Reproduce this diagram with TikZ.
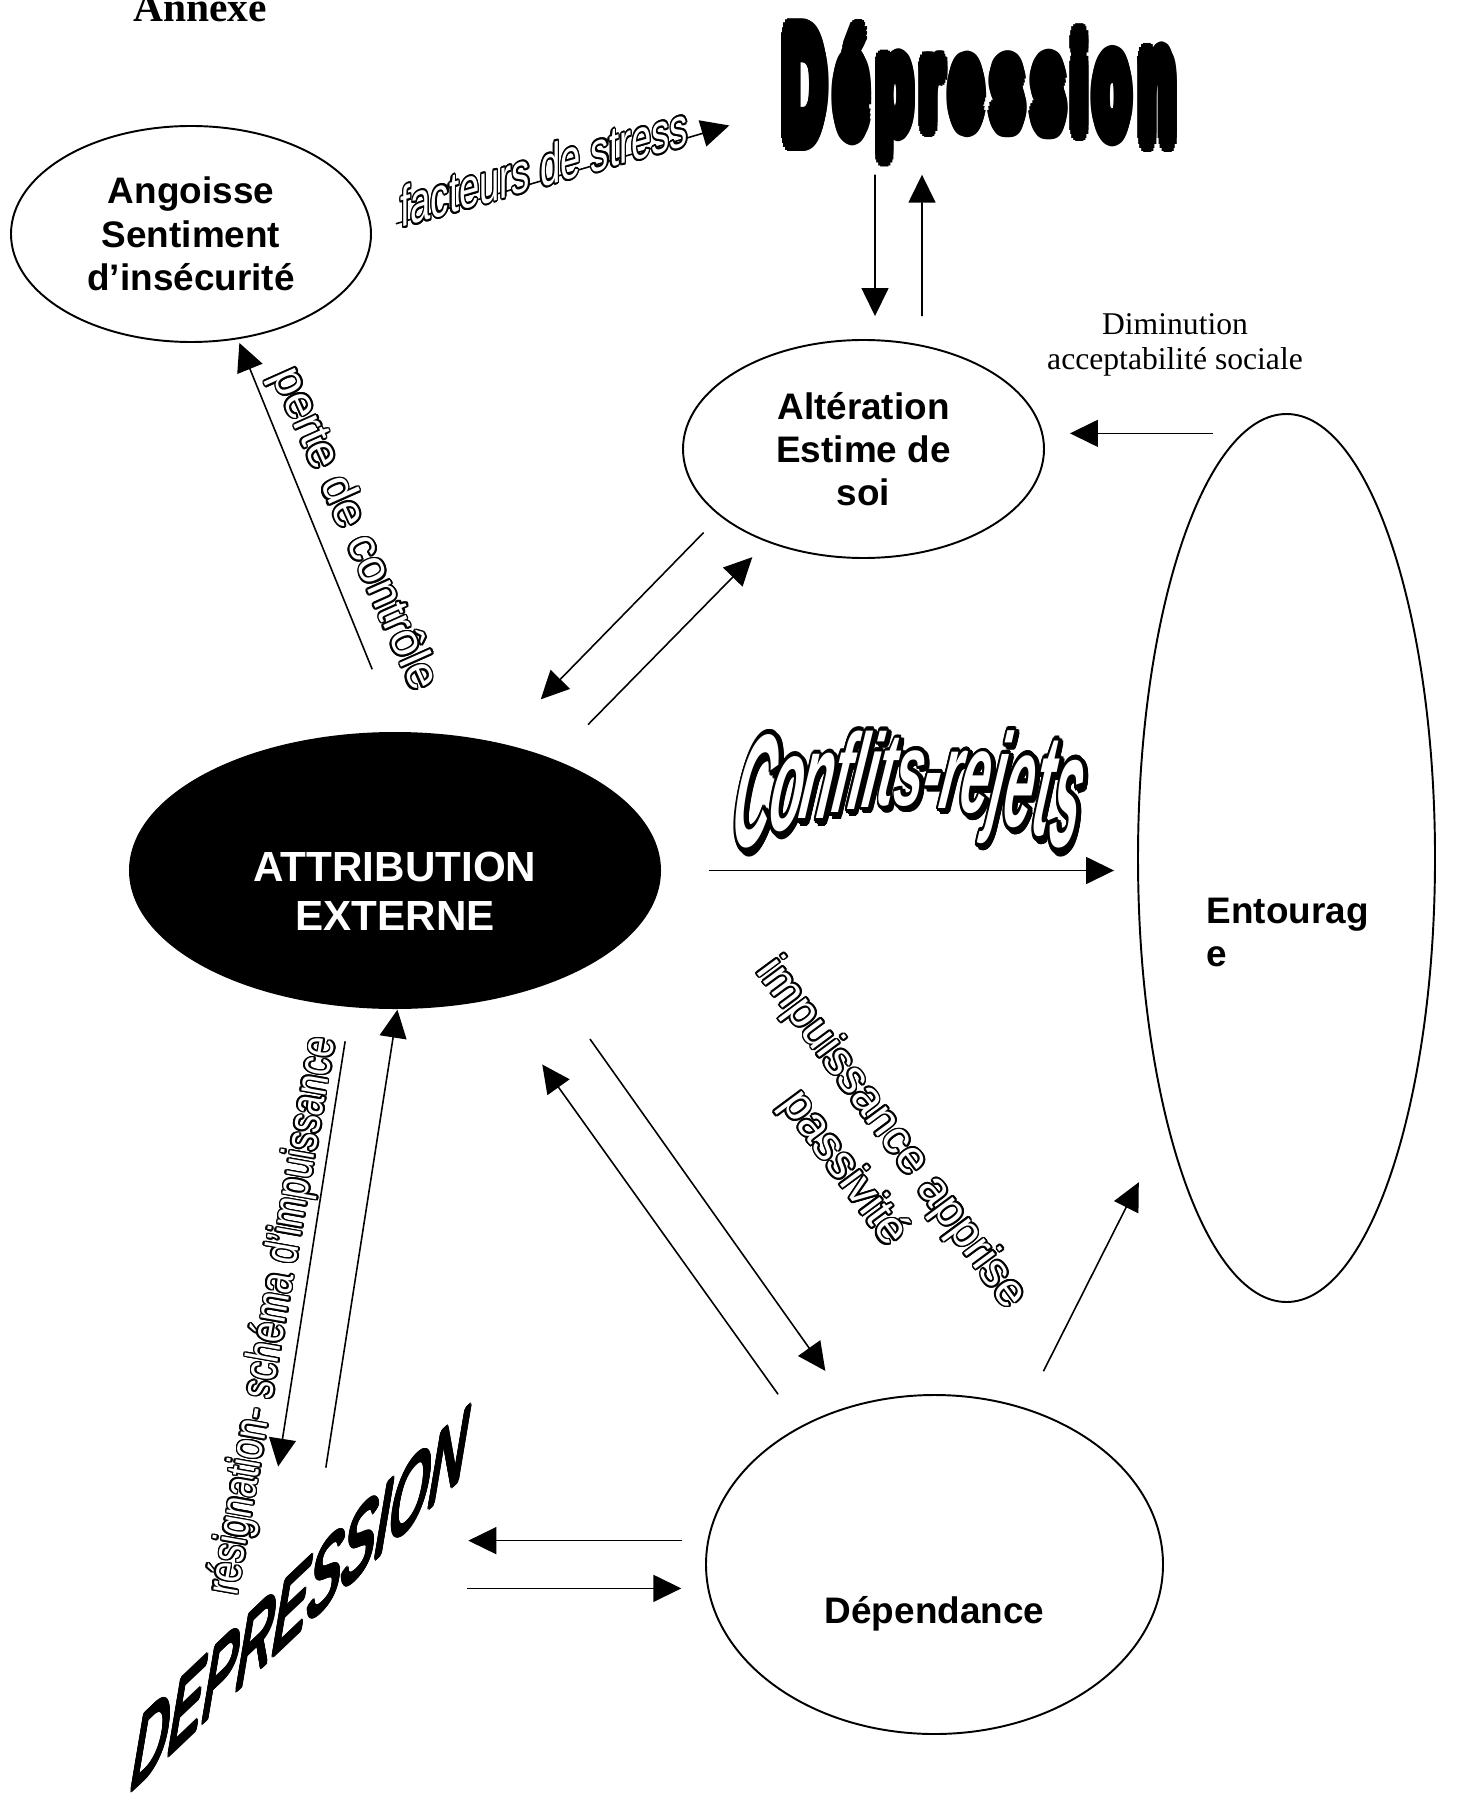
\documentclass[tikz,border=0pt]{standalone}
\usepackage{fontspec}
\setmainfont{Liberation Sans}
\newfontfamily\timesfont{Liberation Serif}
\usepackage{xcolor}
\usepackage[copies]{contour}
\usepackage{tikz}
\usetikzlibrary{arrows.meta,shapes.geometric}
\contourlength{0.5pt}
\newcommand{\creux}[1]{{\color{white}\contour{black}{#1}}}
\tikzset{
    %Define standard arrow tip
    >={Triangle[length=0.28cm,width=0.27cm]},
    %Define style for ellipses
    bulle/.style={
           ellipse,
           draw=black, line width=0.55pt,
           inner sep=0pt,
           align=center,
           font=\bfseries\fontsize{10.5}{12.3}\selectfont},
    bullenoire/.style={
           ellipse,
           fill=black,
           inner sep=0pt},
    %Define style for texts
    texte/.style={
           inner sep=0pt,
           font=\bfseries\fontsize{10.5}{12.3}\selectfont},
    textenoir/.style={
           inner sep=0pt,
           align=center,
           text=white,
           font=\bfseries\fontsize{12}{13.9}\selectfont},
    creuxtexte/.style={
           inner sep=0pt,
           align=center,
           font=\fontsize{13.2}{16.8}\selectfont},
    lettre/.style={
           inner sep=0pt,
           anchor=base,
           font=\bfseries\fontsize{17}{20}\selectfont},
    relief/.style={
           inner sep=0pt,
           anchor=base,
           font=\bfseries\itshape\fontsize{14.8}{16}\selectfont},
    % Define arrow style
    pil/.style={
           ->,
           line width=0.45pt}
}
\begin{document}
\begin{tikzpicture}
\useasboundingbox (0,0) rectangle (14.64,-17.93);
%nodes
\node[anchor=base, inner sep=0pt, font=\timesfont\bfseries\fontsize{11.8}{14}\selectfont] (annexe) at (2.00,-0.217) {Annexe};
\node[bulle, minimum width=3.6cm, minimum height=2.16cm] (ang) at (1.91,-2.34) {Angoisse\\Sentiment\\d’insécurité};
\node[bulle, minimum width=3.61cm, minimum height=2.18cm] (alt) at (8.635,-4.49) {Altération\\Estime de\\soi};
\node[bulle, minimum width=2.97cm, minimum height=8.88cm] (ent) at (12.865,-8.58) {};
\node[texte, align=left, anchor=north west] (entlbl) at ([shift={(-0.805,-0.39)}]ent.center) {Entourag\\e};
\node[bullenoire, minimum width=5.32cm, minimum height=2.77cm] (attr) at (3.95,-8.705) {};
\node[textenoir, anchor=north] (attrlbl) at ([yshift=0.195cm]attr.center) {ATTRIBUTION\\EXTERNE};
\node[bulle, minimum width=4.57cm, minimum height=3.39cm] (dep) at (9.345,-15.645) {};
\node[texte, anchor=base] (deplbl) at ([yshift=-0.585cm]dep.center) {Dépendance};
\node[inner sep=0pt, align=center, anchor=north, font=\timesfont\fontsize{9}{9.96}\selectfont] (dimin) at (11.75,-3.13) {Diminution\\acceptabilité sociale};
% Depression (haut)
\node[minimum width=4.02cm, minimum height=1.43cm, inner sep=0pt] (deptop) at (9.79,-0.83) {};
\foreach \ch/\dx [count=\i] in {D/-1.744,é/-1.272,p/-0.841,r/-0.472,e/-0.124,s/0.287,s/0.697,i/1.005,o/1.333,n/1.784}{
    \pgfmathsetmacro{\fac}{1+0.34*(\dx/1.9)^2}
    \node[lettre, yscale=2*\fac] (dl\i) at ([shift={(\dx,-0.43*\fac)}]deptop.center) {\contourlength{1.5pt}\contour{black}{\ch}};
}
% Conflits-rejets
\node[minimum width=3.46cm, minimum height=1.26cm, inner sep=0pt] (conf) at (9.02,-7.86) {};
\foreach \ch/\dx [count=\i] in {C/-1.544,o/-1.201,n/-0.886,f/-0.643,l/-0.486,i/-0.343,t/-0.185,s/0.044,-/0.273,r/0.458,e/0.702,j/0.917,e/1.131,t/1.360,s/1.589}{
    \pgfmathsetmacro{\hh}{73+42*((\dx-0.02)/1.57)^2}
    \node[relief, xslant=0.15, yscale=\hh/37.2] (cs\i) at ([shift={(\dx+0.03,0.51-\hh/100)}]conf.center) {\contour{black}{\ch}};
    \node[relief, text=white, xslant=0.15, yscale=\hh/37.2] (cr\i) at ([shift={(\dx,0.54-\hh/100)}]conf.center) {\contour{black}{\ch}};
}
% DEPRESSION (bas)
\node[inner sep=0pt, anchor=base west, font=\itshape\fontsize{20}{22}\selectfont, cm={0.725,0.688,0.12,1.42,(0,0)}] (depbas) at (1.30,-17.92) {\contour{black}{DEPRESSION}};
%arrows
\draw[pil, shorten <=0.25cm, shorten >=0.5cm] (ang.1.6) -- (deptop.188.3);
\draw[pil] ([shift={(-1.04,-0.195)}]deptop.south) -- ([shift={(0.115,0.23)}]alt.north);
\draw[pil] ([shift={(0.585,0.23)}]alt.north) -- ([shift={(-0.57,-0.195)}]deptop.south);
\draw[pil, shorten <=0.29cm, shorten >=0.25cm] (ent.96.5) -- (ent.96.5 -| alt.east);
\draw[pil, shorten <=0.23cm, shorten >=0.6cm] (alt.205.9) -- (attr.51);
\draw[pil, shorten <=0.48cm, shorten >=0.21cm] (attr.35.2) -- (alt.224.5);
\draw[pil, shorten <=0.67cm, shorten >=0.04cm] (attr.89.4) -- (ang.-66.4);
\draw[pil, shorten <=0.47cm, shorten >=0.23cm] (attr.east) -- (attr.east -| ent.west);
\draw[pil, shorten <=0.68cm, shorten >=0.43cm] (attr.-36.6) -- (dep.118.5);
\draw[pil, shorten <=0.39cm, shorten >=0.8cm] (dep.134.1) -- (attr.-52.6);
\draw[pil, shorten <=0.41cm, shorten >=0.63cm] (dep.60.1) -- (ent.246.5);
\draw[pil, shorten <=0.25cm] (dep.174.6) -- ++(-2.39,0);
\draw[pil, shorten >=0.26cm] (dep.186.4) ++(-2.40,0) -- (dep.186.4);
\draw[pil, shorten <=0.34cm] (attr.252.65) -- ++(-0.723,-4.588);
\draw[pil] (attr.-89.3) ++(-0.716,-4.58) -- (attr.-89.3);
%hollow labels
\node[creuxtexte, font=\fontsize{14.2}{16}\selectfont, anchor=base west, cm={0.730,0.210,0,1.14,(0,0)}] (stress) at (4.00,-2.28) {\creux{facteurs de stress}};
\node[creuxtexte, rotate=-66] (perte) at (3.53,-5.30) {\creux{perte de contrôle}};
\node[creuxtexte, rotate=-53.5] (impuis) at (8.665,-11.52) {\creux{impuissance apprise}\\\creux{passivité}};
\node[creuxtexte, rotate=80, xscale=0.78] (resign) at (2.75,-13.16) {\creux{résignation- schéma d’impuissance}};
\end{tikzpicture}
\end{document}
